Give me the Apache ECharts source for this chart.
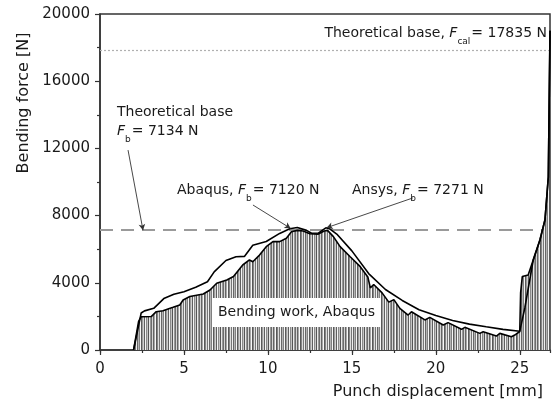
<!DOCTYPE html>
<html><head><meta charset="utf-8">
<script src="https://cdn.jsdelivr.net/npm/echarts@6/dist/echarts.min.js"></script>
<style>html,body{margin:0;padding:0;background:#fff}#c{width:553px;height:403px}</style>
</head><body><div id="c"></div>
<script>
// ---- data ----
const xTicks = [0, 5, 10, 15, 20, 25];
const yTicks = [0, 4000, 8000, 12000, 16000, 20000];
const xMax = 26.8;
const fbTheory = 7134;
const fcalTheory = 17835;
// Abaqus (filled, "bending work")
const abaqus = [[2.0,0],[2.3,1700],[2.45,1980],[3.05,1990],[3.35,2280],[3.75,2340],[4.35,2540],[4.75,2680],[4.95,2980],[5.35,3180],[6.15,3330],[6.55,3570],[6.95,3970],[7.55,4170],[7.95,4370],[8.5,5060],[8.9,5360],[9.1,5250],[9.5,5650],[9.9,6150],[10.3,6450],[10.7,6450],[11.1,6650],[11.4,7040],[11.75,7120],[12.1,7080],[12.5,6920],[13.0,6900],[13.35,7080],[13.55,7120],[13.9,6750],[14.3,6150],[14.9,5550],[15.5,4960],[15.95,4350],[16.1,3700],[16.3,3900],[16.8,3400],[17.2,2850],[17.5,3000],[17.86,2480],[18.35,2080],[18.55,2280],[19.35,1790],[19.64,1940],[20.44,1490],[20.73,1630],[21.53,1230],[21.73,1350],[22.62,990],[22.82,1090],[23.61,830],[23.81,990],[24.5,790],[24.7,890],[25.0,1100],[25.05,3400],[25.15,4370],[25.5,4470],[25.8,5360],[26.2,6550],[26.5,7740],[26.7,10300],[26.8,19000]];
// Ansys (upper smooth curve)
const ansys = [[2.0,0],[2.45,2200],[2.65,2330],[3.2,2480],[3.8,3060],[4.4,3320],[5.0,3470],[5.7,3730],[6.4,4060],[6.8,4650],[7.5,5330],[8.1,5550],[8.6,5570],[9.1,6230],[9.9,6460],[10.7,6940],[11.3,7220],[11.75,7290],[12.3,7120],[12.6,6950],[13.0,6960],[13.45,7271],[13.7,7200],[14.1,6900],[15.0,5900],[16.0,4550],[17.0,3600],[18.0,2950],[19.0,2400],[20.0,2050],[21.0,1760],[22.0,1540],[23.0,1380],[24.0,1230],[25.0,1120],[25.3,2500],[25.8,5350],[26.2,6550],[26.5,7750],[26.7,10300],[26.8,19000]];
// leader arrows (data coords): from text to target
const leaders = [
  [[1.67, 11900], [2.56, 7134]],
  [[9.11, 8630], [11.35, 7240]],
  [[18.63, 9050], [13.5, 7280]]
];

function hatch() {
  const cols = ['#5f5f5f','#f4f4f4','#8a8a8a','#c4c4c4','#555555','#e8e8e8','#989898','#6c6c6c','#d6d6d6','#646464','#a8a8a8','#f8f8f8','#585858','#858585','#dcdcdc','#777777','#eeeeee','#676767','#b4b4b4','#808080','#f6f6f6','#5a5a5a','#9c9c9c','#d0d0d0'];
  const c = document.createElement('canvas');
  c.width = cols.length; c.height = 4;
  const g = c.getContext('2d');
  cols.forEach((col, i) => { g.fillStyle = col; g.fillRect(i, 0, 1, 4); });
  return c;
}

const FONT = 'DejaVu Sans';
const TXT = '#1a1a1a';
const rich = {
  t: {fontSize: 14, fontFamily: FONT, color: TXT, lineHeight: 14, verticalAlign: 'top'},
  i: {fontSize: 14, fontFamily: FONT, color: TXT, lineHeight: 14, fontStyle: 'italic', verticalAlign: 'top'},
  s: {fontSize: 9, fontFamily: FONT, color: TXT, lineHeight: 9, padding: [11, 1, 0, 0], verticalAlign: 'top'}
};
function fLabel(pre, sub, post) {
  return (pre ? '{t|' + pre + '}' : '') + '{i|F}{s|' + sub + '}{t|' + post + '}';
}
function txt(x, y, text, opts) {
  return {
    type: 'text', x: x, y: y, silent: true, z: 20,
    style: Object.assign({text: text, fontSize: 14, fontFamily: FONT, fill: TXT, align: 'left', verticalAlign: 'top', rich: rich}, opts || {})
  };
}

const chart = echarts.init(document.getElementById('c'), null, {renderer: 'canvas'});
const axisCol = '#333';
chart.setOption({
  animation: false,
  backgroundColor: '#fff',
  grid: {left: 100, top: 14, width: 450, height: 336, show: true, borderColor: axisCol, borderWidth: 1.5, backgroundColor: 'transparent'},
  xAxis: [{
    type: 'value', min: 0, max: xMax, interval: 5,
    axisLine: {show: true, lineStyle: {color: axisCol, width: 1.5}},
    axisTick: {show: true, length: 5, lineStyle: {color: axisCol, width: 1.2}},
    axisLabel: {fontSize: 15, fontFamily: FONT, color: TXT, margin: 12, showMaxLabel: false,
      formatter: v => xTicks.indexOf(v) >= 0 ? String(v) : ''},
    splitLine: {show: false}
  }, {
    type: 'value', min: 0, max: xMax, interval: 2.5, position: 'bottom',
    axisLine: {show: false},
    axisTick: {show: true, length: 3, lineStyle: {color: axisCol, width: 1.2}},
    axisLabel: {show: false}, splitLine: {show: false}
  }],
  yAxis: {
    type: 'value', min: 0, max: 20000, interval: 4000,
    axisLine: {show: true, lineStyle: {color: axisCol, width: 1.5}},
    axisTick: {show: true, length: 5, lineStyle: {color: axisCol, width: 1.2}},
    minorTick: {show: true, splitNumber: 2, length: 3, lineStyle: {color: axisCol, width: 1.2}},
    axisLabel: {fontSize: 15, fontFamily: FONT, color: TXT, margin: 10,
      formatter: v => yTicks.indexOf(v) >= 0 ? String(v) : ''},
    splitLine: {show: false}, minorSplitLine: {show: false}
  },
  series: [{
    type: 'line', data: [], xAxisIndex: 0, z: 1, silent: true,
    markLine: {
      silent: true, z: 1, symbol: 'none', animation: false, label: {show: false},
      data: [
        {yAxis: fbTheory, lineStyle: {color: '#9a9a9a', width: 2, type: [13, 8]}},
        {yAxis: fcalTheory, lineStyle: {color: '#b0b0b0', width: 1.2, type: [2, 2]}}
      ]
    }
  }, {
    name: 'Abaqus', type: 'line', data: abaqus, xAxisIndex: 0, z: 3, silent: true,
    showSymbol: false, symbol: 'none', smooth: false,
    lineStyle: {color: '#000', width: 1.6},
    areaStyle: {color: {image: hatch(), repeat: 'repeat'}, opacity: 1}
  }, {
    name: 'Ansys', type: 'line', data: ansys, xAxisIndex: 0, z: 4, silent: true,
    showSymbol: false, symbol: 'none', smooth: false,
    lineStyle: {color: '#000', width: 1.6},
    markLine: {
      silent: true, z: 6, symbol: ['none', 'arrow'], symbolSize: [5, 6], animation: false, label: {show: false},
      lineStyle: {color: '#333', width: 0.9, type: 'solid'},
      data: leaders.map(p => [{coord: p[0]}, {coord: p[1]}])
    }
  }],
  graphic: [
    txt(117, 105, 'Theoretical base'),
    txt(117, 124, fLabel('', 'b', '= 7134 N')),
    txt(177, 183, fLabel('Abaqus, ', 'b', '= 7120 N')),
    txt(352, 183, fLabel('Ansys, ', 'b', '= 7271 N')),
    txt(547, 26, fLabel('Theoretical base, ', 'cal', '= 17835 N'), {align: 'right'}),
    txt(212, 298, 'Bending work, Abaqus', {backgroundColor: '#fff', padding: [7, 6, 8, 6]}),
    {type: 'text', x: 24, y: 103, rotation: Math.PI / 2, silent: true, z: 20,
      style: {text: 'Bending force [N]', fontSize: 16, fontFamily: FONT, fill: TXT, align: 'center', verticalAlign: 'middle'}},
    {type: 'text', x: 543, y: 392, silent: true, z: 20,
      style: {text: 'Punch displacement [mm]', fontSize: 16, fontFamily: FONT, fill: TXT, align: 'right', verticalAlign: 'middle'}}
  ]
});
</script>
</body></html>
